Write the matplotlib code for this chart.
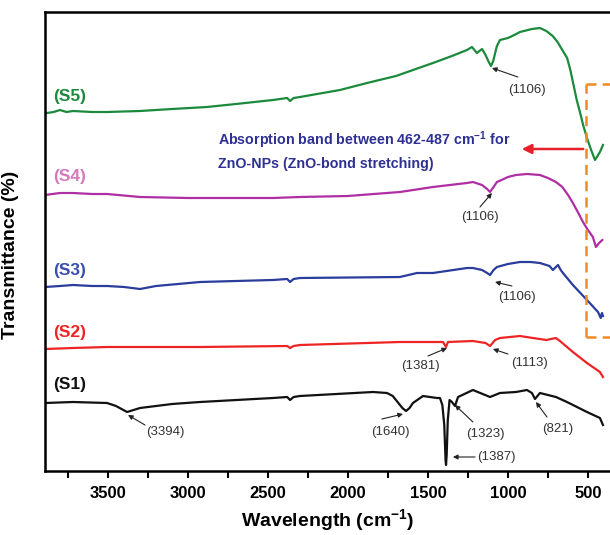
import matplotlib
matplotlib.use("Agg")
import matplotlib.pyplot as plt

plt.rcParams['font.family'] = ['Liberation Sans', 'DejaVu Sans']
plt.rcParams['mathtext.fontset'] = 'custom'
plt.rcParams['mathtext.rm'] = 'Liberation Sans:bold'
plt.rcParams['mathtext.it'] = 'Liberation Sans:bold'
plt.rcParams['mathtext.bf'] = 'Liberation Sans:bold'
plt.rcParams['mathtext.default'] = 'rm'

# ---- data (wavenumber cm^-1, offset transmittance a.u.) ----
s5_wn = [3894, 3881, 3840, 3800, 3760, 3719, 3600, 3506, 3300, 3100, 2881, 2700, 2469, 2380,
         2362, 2340, 2300, 2050, 1881, 1700, 1469, 1350, 1256, 1225, 1194, 1162, 1140, 1120,
         1106, 1092, 1080, 1069, 1050, 1000, 960, 925, 900, 850, 800, 760, 720, 690, 660,
         630, 610, 594, 570, 550, 530, 506, 480, 456, 440, 425, 406]
s5_t = [358, 358, 359, 361, 359, 360, 359, 359, 360, 362, 364, 367, 371, 373,
        370, 373, 374, 381, 388, 395, 408, 415, 421, 424, 418, 422, 416, 409,
        405, 410, 418, 425, 431, 433, 436, 439, 440, 442, 443, 440, 435, 429, 421,
        413, 401, 389, 371, 359, 346, 333, 321, 311, 315, 319, 326]

s4_wn = [3894, 3800, 3719, 3600, 3506, 3300, 3000, 2925, 2700, 2469, 2300, 2000, 1675, 1469,
         1256, 1219, 1162, 1130, 1112, 1090, 1069, 1040, 1000, 950, 880, 800, 750, 700, 660,
         620, 594, 560, 531, 500, 469, 450, 430, 410]
s4_t = [276, 278, 278, 277, 277, 274, 273, 273, 273, 273, 274, 275, 279, 284,
        288, 289, 286, 282, 279, 284, 289, 291, 294, 296, 297, 296, 293, 289, 284,
        275, 268, 258, 249, 241, 234, 224, 228, 231]

s3_wn = [3894, 3800, 3719, 3600, 3506, 3400, 3300, 3200, 2925, 2700, 2469, 2380, 2362, 2340,
         2300, 1675, 1569, 1469, 1256, 1219, 1162, 1130, 1112, 1090, 1069, 1000, 925, 860,
         800, 740, 719, 700, 687, 670, 656, 594, 506, 437, 420, 412, 406]
s3_t = [184, 185, 186, 185, 185, 184, 182, 185, 189, 190, 191, 192, 189, 192,
        193, 194, 198, 198, 203, 203, 201, 198, 196, 201, 204, 207, 209, 209,
        208, 205, 201, 204, 206, 201, 198, 186, 171, 159, 153, 158, 155]

s2_wn = [3894, 3719, 3506, 2925, 2380, 2362, 2340, 2300, 1881, 1675, 1406, 1387, 1375, 1219,
         1140, 1112, 1080, 1050, 925, 844, 760, 700, 675, 594, 506, 425, 406]
s2_t = [122, 123, 124, 124, 125, 123, 125, 126, 128, 129, 129, 124, 129, 130,
        128, 125, 131, 133, 135, 133, 131, 133, 130, 119, 108, 99, 94]

s1_wn = [3894, 3719, 3506, 3450, 3381, 3300, 3100, 2925, 2469, 2380, 2362, 2340, 2300, 1844,
         1756, 1720, 1690, 1660, 1637, 1615, 1594, 1531, 1444, 1425, 1410, 1398, 1390, 1387,
         1383, 1376, 1365, 1350, 1331, 1312, 1219, 1112, 1050, 950, 881, 850, 831, 800, 700,
         631, 506, 425, 406]
s1_t = [68, 69, 68, 65, 59, 63, 67, 69, 73, 74, 71, 74, 75, 79,
        78, 75, 69, 63, 60, 63, 68, 75, 73, 73, 66, 46, 11, 6,
        16, 51, 71, 69, 65, 74, 81, 74, 78, 79, 81, 78, 72, 78, 74,
        69, 59, 53, 46]

series = [
    ("(S5)", s5_wn, s5_t, "#1b8a3c", "#1b8a3c"),
    ("(S4)", s4_wn, s4_t, "#b02ea4", "#d27bbd"),
    ("(S3)", s3_wn, s3_t, "#2a3c9c", "#3a4fae"),
    ("(S2)", s2_wn, s2_t, "#ee2424", "#ee2424"),
    ("(S1)", s1_wn, s1_t, "#111111", "#111111"),
]
label_y = [375, 294, 201, 138, 86]

xticks = [3500, 3000, 2500, 2000, 1500, 1000, 500]
xtick_labels = ["3500", "3000", "2500", "2000", "1500", "1000", "500"]
minor_ticks = [3750, 3250, 2750, 2250, 1750, 1250, 750]

fig = plt.figure(figsize=(6.1, 5.35), dpi=100)
ax = fig.add_axes([45/610, 64/535, 565/610, 459/535])

for (name, wn, t, lc, tc), ly in zip(series, label_y):
    ax.plot(wn, t, color=lc, lw=1.6, solid_joinstyle='round')
    ax.text(3844, ly, name, color=tc, fontsize=12.5, fontweight='bold', ha='left', va='center')

ax.set_xlim(3894, 362)
ax.set_ylim(0, 459)
ax.set_yticks([])
ax.set_xticks(xticks)
ax.set_xticklabels(xtick_labels)
ax.set_xticks(minor_ticks, minor=True)
ax.tick_params(axis='x', which='both', direction='out', length=5, width=1.5,
               labelsize=12, pad=6)
for lab in ax.get_xticklabels():
    lab.set_fontweight('bold')
for s in ['left', 'bottom', 'top']:
    ax.spines[s].set_linewidth(1.8)
ax.spines['right'].set_visible(False)

ax.set_xlabel("Wavelength (cm$^{-1}$)", fontsize=14, fontweight='bold', labelpad=4)
ax.set_ylabel("Transmittance (%)", fontsize=14, fontweight='bold')
ax.yaxis.set_label_coords(-0.046, 0.47)

# orange dashed box
box_c = "#f08a24"
ax.plot([512, 512], [134, 387], color=box_c, lw=1.8, ls=(0, (4, 2.5)))
ax.plot([512, 300], [387, 387], color=box_c, lw=1.8, ls=(0, (4, 2.5)))
ax.plot([512, 300], [134, 134], color=box_c, lw=1.8, ls=(0, (4, 2.5)))

# red arrow
ax.annotate("", xy=(931, 322), xytext=(512, 322),
            arrowprops=dict(arrowstyle='-|>', color='#e8202a', lw=1.8, mutation_scale=14))

txt_c = "#2e3192"
ax.text(2812, 331, "Absorption band between 462-487 cm$^{-1}$ for", color=txt_c,
        fontsize=10.3, fontweight='bold', ha='left', va='center')
ax.text(2812, 307, "ZnO-NPs (ZnO-bond stretching)", color=txt_c,
        fontsize=10.3, fontweight='bold', ha='left', va='center')

# peak annotations: (label, tip, tail, text position)
annots = [
    ("(1106)", (1100, 403), (938, 394), (881, 381)),
    ("(1106)", (1100, 278), (1175, 264), (1175, 254)),
    ("(1106)", (1081, 189), (975, 185), (944, 174)),
    ("(1381)", (1381, 123), (1500, 115), (1550, 105)),
    ("(1113)", (1094, 122), (1000, 117), (863, 108)),
    ("(1640)", (1656, 57), (1788, 52), (1738, 39)),
    ("(1323)", (1331, 66), (1219, 49), (1144, 37)),
    ("(821)", (825, 69), (756, 54), (687, 42)),
    ("(3394)", (3375, 56), (3269, 46), (3144, 39)),
]
for lab, tip, tail, tp in annots:
    ax.annotate("", xy=tip, xytext=tail,
                arrowprops=dict(arrowstyle='-|>', color='#222222', lw=0.8, mutation_scale=7,
                                shrinkA=0, shrinkB=0))
    ax.text(tp[0], tp[1], lab, fontsize=9.5, color='#333333', ha='center', va='center')

ax.annotate("", xy=(1344, 14), xytext=(1206, 14),
            arrowprops=dict(arrowstyle='-|>', color='#222222', lw=0.8, mutation_scale=7,
                            shrinkA=0, shrinkB=0))
ax.text(1190, 14, "(1387)", fontsize=9.5, color='#333333', ha='left', va='center')

fig.savefig("out.png", dpi=100)
